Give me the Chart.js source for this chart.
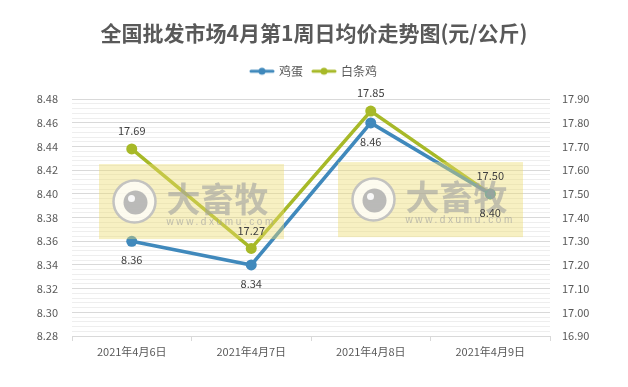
<!DOCTYPE html>
<html><head><meta charset="utf-8">
<script src="https://cdn.jsdelivr.net/npm/chart.js@4/dist/chart.umd.min.js"></script>
<style>html,body{margin:0;padding:0;background:#fff}#wrap{width:628px;height:387px}</style>
</head><body><div id="wrap"><canvas id="c" width="628" height="387"></canvas></div>
<script>
const titleText = '全国批发市场4月第1周日均价走势图(元/公斤)';
const categories = ['2021年4月6日', '2021年4月7日', '2021年4月8日', '2021年4月9日'];
const seriesNames = ['鸡蛋', '白条鸡'];
const eggPrices = [8.36, 8.34, 8.46, 8.40];
const chickenPrices = [17.69, 17.27, 17.85, 17.50];
const leftTicks = [8.28, 8.30, 8.32, 8.34, 8.36, 8.38, 8.40, 8.42, 8.44, 8.46, 8.48];
const rightTicks = [16.90, 17.00, 17.10, 17.20, 17.30, 17.40, 17.50, 17.60, 17.70, 17.80, 17.90];
const watermarkBrand = '大畜牧';
const watermarkSite = 'www.dxumu.com';

const FONT = "'Microsoft YaHei','Noto Sans CJK SC','Noto Sans',sans-serif";
const BLUE = '#4089bc';
const GREEN = '#a7b928';

function withMinor(majors, parts) {
  const out = [];
  for (let i = 0; i < majors.length; i++) {
    out.push({ value: majors[i] });
    if (i < majors.length - 1) {
      const step = (majors[i + 1] - majors[i]) / parts;
      for (let k = 1; k < parts; k++) out.push({ value: +(majors[i] + step * k).toFixed(4) });
    }
  }
  return out;
}
function isMajor(list, v) { return list.some(t => Math.abs(t - v) < 1e-6); }

function legendIcon(color) {
  const c = document.createElement('canvas');
  c.width = 26; c.height = 10;
  const g = c.getContext('2d');
  g.strokeStyle = color; g.lineWidth = 3; g.lineCap = 'round';
  g.beginPath(); g.moveTo(2, 5); g.lineTo(24, 5); g.stroke();
  g.fillStyle = color; g.beginPath(); g.arc(13, 5, 3.5, 0, Math.PI * 2); g.fill();
  return c;
}

function drawWatermark(ctx, cx, cy) {
  ctx.save();
  ctx.fillStyle = 'rgba(236,220,110,0.42)';
  ctx.fillRect(cx - 92.5, cy - 37.5, 185, 75);
  const lx = cx - 57, ly = cy;
  ctx.beginPath(); ctx.arc(lx, ly, 21, 0, Math.PI * 2);
  ctx.fillStyle = 'rgba(255,255,255,0.75)'; ctx.fill();
  ctx.lineWidth = 2.5; ctx.strokeStyle = 'rgba(190,190,190,0.9)'; ctx.stroke();
  ctx.beginPath(); ctx.arc(lx + 1, ly + 1, 12, 0, Math.PI * 2);
  ctx.fillStyle = 'rgba(175,175,175,0.85)'; ctx.fill();
  ctx.beginPath(); ctx.arc(lx - 3, ly - 3, 3.5, 0, Math.PI * 2);
  ctx.fillStyle = 'rgba(255,255,255,0.9)'; ctx.fill();
  ctx.fillStyle = 'rgba(160,160,160,0.6)';
  ctx.textAlign = 'left'; ctx.textBaseline = 'middle';
  ctx.font = "bold 34px " + FONT;
  ctx.fillText(watermarkBrand, cx - 25, cy - 3);
  ctx.font = "10px 'Liberation Sans',Arial,sans-serif";
  try { ctx.letterSpacing = '2.6px'; } catch (e) {}
  ctx.fillStyle = 'rgba(160,160,160,0.65)';
  ctx.fillText(watermarkSite, cx - 25, cy + 21);
  ctx.restore();
}

const overlayPlugin = {
  id: 'overlay',
  afterDatasetsDraw(chart) {
    const ctx = chart.ctx;
    const x = chart.scales.x;
    const a = chart.chartArea;
    const cy = (a.top + a.bottom) / 2 - 16;
    const b1 = (x.getPixelForValue(0) + x.getPixelForValue(1)) / 2;
    const b2 = (x.getPixelForValue(2) + x.getPixelForValue(3)) / 2;
    drawWatermark(ctx, b1, cy);
    drawWatermark(ctx, b2, cy - 2);
    ctx.save();
    ctx.font = "11px " + FONT;
    ctx.fillStyle = '#404040';
    ctx.textAlign = 'center'; ctx.textBaseline = 'middle';
    chart.data.datasets.forEach((ds, i) => {
      const meta = chart.getDatasetMeta(i);
      meta.data.forEach((pt, j) => {
        const off = i === 0 ? 19 : -18;
        ctx.fillText(ds.data[j].toFixed(2), pt.x, pt.y + off);
      });
    });
    ctx.restore();
  }
};

new Chart(document.getElementById('c'), {
  type: 'line',
  data: {
    labels: categories,
    datasets: [
      { label: seriesNames[0], data: eggPrices, yAxisID: 'y', borderColor: BLUE, backgroundColor: BLUE,
        borderWidth: 3.5, pointRadius: 5.5, pointBorderWidth: 0, pointHoverRadius: 5.5, tension: 0, fill: false },
      { label: seriesNames[1], data: chickenPrices, yAxisID: 'y1', borderColor: GREEN, backgroundColor: GREEN,
        borderWidth: 3.5, pointRadius: 5.5, pointBorderWidth: 0, pointHoverRadius: 5.5, tension: 0, fill: false }
    ]
  },
  options: {
    responsive: false,
    animation: false,
    devicePixelRatio: 1,
    layout: { padding: { left: 0, right: 0, top: 0, bottom: 0 } },
    plugins: {
      title: { display: true, text: titleText, color: '#595959',
        font: { family: FONT, size: 21, weight: 'bold', lineHeight: 1.2 }, padding: { top: 20, bottom: 10 } },
      subtitle: { display: true, text: '', position: 'top', weight: 500, font: { size: 10, lineHeight: 1.2 }, padding: 0 },
      legend: { display: true, position: 'top',
        labels: { usePointStyle: true, pointStyleWidth: 22, padding: 10, color: '#595959',
          font: { family: FONT, size: 12 },
          generateLabels(chart) {
            return chart.data.datasets.map((ds, i) => ({
              text: ds.label, pointStyle: legendIcon(ds.borderColor), fillStyle: ds.borderColor,
              strokeStyle: ds.borderColor, lineWidth: 0, hidden: !chart.isDatasetVisible(i),
              datasetIndex: i, fontColor: '#595959'
            }));
          } } },
      tooltip: { enabled: false }
    },
    scales: {
      x: {
        offset: true,
        afterFit(s) { s.height = 51; },
        grid: { display: true, offset: true, drawOnChartArea: false, drawTicks: true, tickLength: 5, color: '#d9d9d9' },
        border: { display: true, color: '#d9d9d9' },
        ticks: { color: '#595959', font: { family: FONT, size: 11 }, padding: 4, maxRotation: 0 }
      },
      y: {
        position: 'left', min: leftTicks[0], max: leftTicks[leftTicks.length - 1],
        afterBuildTicks(s) { s.ticks = withMinor(leftTicks, 5); },
        afterFit(s) { s.width = 72; },
        grid: { drawTicks: false, color: (c) => (c.tick && isMajor(leftTicks, c.tick.value)) ? '#d9d9d9' : '#eeeeee' },
        border: { display: false },
        ticks: { autoSkip: false, padding: 14, color: '#595959', font: { family: FONT, size: 11 },
          callback: (v) => isMajor(leftTicks, v) ? Number(v).toFixed(2) : '' }
      },
      y1: {
        position: 'right', min: rightTicks[0], max: rightTicks[rightTicks.length - 1],
        afterBuildTicks(s) { s.ticks = withMinor(rightTicks, 5); },
        afterFit(s) { s.width = 78; },
        grid: { drawTicks: false, drawOnChartArea: false },
        border: { display: false },
        ticks: { autoSkip: false, padding: 12, color: '#595959', font: { family: FONT, size: 11 },
          callback: (v) => isMajor(rightTicks, v) ? Number(v).toFixed(2) : '' }
      }
    }
  },
  plugins: [overlayPlugin]
});
</script>
</body></html>
